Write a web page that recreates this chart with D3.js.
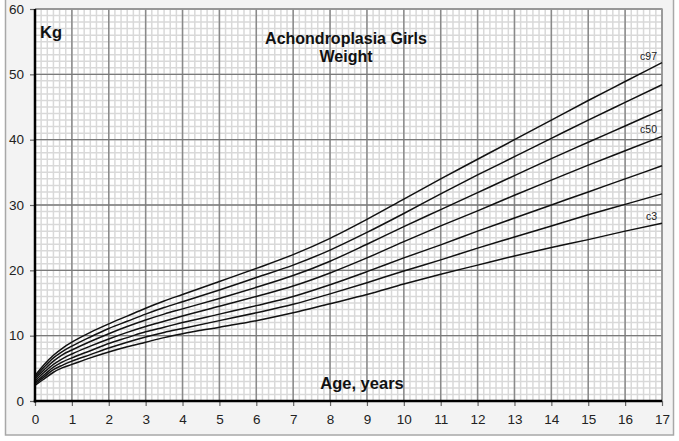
<!DOCTYPE html>
<html>
<head>
<meta charset="utf-8">
<script src="https://cdn.jsdelivr.net/npm/d3@7"></script>
<style>
  body { margin: 0; background: #fff; }
  text { font-family: "Liberation Sans", Arial, sans-serif; }
</style>
</head>
<body>
<svg id="chart" width="679" height="441"></svg>
<script>
// ages in years
const ages = [0, 0.25, 0.5, 0.75, 1, 1.5, 2, 2.5, 3, 3.5, 4, 5, 6, 7, 8, 9, 10, 11, 12, 13, 14, 15, 16, 17];

// weight (kg) per percentile
const c97 = [3.9, 5.6, 7.0, 8.1, 9.0, 10.5, 11.8, 13.0, 14.2, 15.3, 16.3, 18.3, 20.3, 22.4, 24.9, 27.8, 30.9, 34.0, 37.0, 40.0, 43.0, 46.0, 48.9, 51.8];
const c90 = [3.65, 5.2, 6.6, 7.6, 8.4, 9.8, 11.1, 12.2, 13.3, 14.3, 15.2, 17.0, 18.9, 20.8, 23.1, 25.8, 28.7, 31.7, 34.6, 37.4, 40.2, 43.0, 45.7, 48.4];
const c75 = [3.4, 4.8, 6.1, 7.1, 7.8, 9.1, 10.3, 11.4, 12.4, 13.3, 14.1, 15.7, 17.4, 19.2, 21.4, 24.0, 26.7, 29.3, 31.9, 34.5, 37.1, 39.6, 42.1, 44.6];
const c50 = [3.1, 4.4, 5.6, 6.5, 7.2, 8.4, 9.5, 10.5, 11.4, 12.2, 13.0, 14.5, 16.0, 17.6, 19.6, 21.9, 24.4, 26.8, 29.1, 31.5, 33.8, 36.1, 38.3, 40.5];
const c25 = [2.85, 4.0, 5.2, 6.0, 6.6, 7.7, 8.8, 9.7, 10.6, 11.3, 12.0, 13.3, 14.6, 16.0, 17.8, 19.8, 21.9, 23.9, 26.0, 28.0, 30.0, 32.0, 34.0, 36.0];
const c10 = [2.6, 3.7, 4.8, 5.5, 6.1, 7.1, 8.1, 9.0, 9.8, 10.5, 11.1, 12.3, 13.5, 14.8, 16.4, 18.1, 19.9, 21.6, 23.4, 25.1, 26.8, 28.5, 30.1, 31.7];
const c3 = [2.4, 3.4, 4.4, 5.1, 5.6, 6.6, 7.5, 8.3, 9.0, 9.7, 10.3, 11.3, 12.3, 13.5, 14.9, 16.3, 17.9, 19.4, 20.8, 22.2, 23.5, 24.7, 26.0, 27.2];

const series = [
  { name: 'c97', values: c97, label: true },
  { name: 'c90', values: c90, label: false },
  { name: 'c75', values: c75, label: false },
  { name: 'c50', values: c50, label: true },
  { name: 'c25', values: c25, label: false },
  { name: 'c10', values: c10, label: false },
  { name: 'c3', values: c3, label: true },
];

const xTicks = d3.range(0, 18);
const yTicks = [0, 10, 20, 30, 40, 50, 60];

const svg = d3.select('#chart');

const plotLeft = 35, plotRight = 662, plotTop = 9, plotBottom = 401;

const x = d3.scaleLinear().domain([0, 17]).range([plotLeft, plotRight]);
const y = d3.scaleLinear().domain([0, 60]).range([plotBottom, plotTop]);

// outer frame
svg.append('rect')
  .attr('x', 5.5).attr('y', -1)
  .attr('width', 668).attr('height', 436)
  .attr('fill', '#f3f3f3')
  .attr('stroke', '#a8a8a8')
  .attr('stroke-width', 1.5);

// plot background
svg.append('rect')
  .attr('x', plotLeft).attr('y', plotTop)
  .attr('width', plotRight - plotLeft).attr('height', plotBottom - plotTop)
  .attr('fill', '#fff');

const grid = svg.append('g');

// minor grid: every 2 months, every 1 kg
grid.selectAll('.vminor')
  .data(d3.range(0, 17 * 6 + 1).map(i => i / 6))
  .enter().append('line')
  .attr('x1', d => x(d)).attr('x2', d => x(d))
  .attr('y1', plotTop).attr('y2', plotBottom)
  .attr('stroke', '#d9d9d9')
  .attr('stroke-width', 1.5);

grid.selectAll('.hminor')
  .data(d3.range(0, 61))
  .enter().append('line')
  .attr('x1', plotLeft).attr('x2', plotRight)
  .attr('y1', d => y(d)).attr('y2', d => y(d))
  .attr('stroke', '#d9d9d9')
  .attr('stroke-width', 1.5);

// major grid
grid.selectAll('.vmajor')
  .data(xTicks)
  .enter().append('line')
  .attr('x1', d => x(d)).attr('x2', d => x(d))
  .attr('y1', plotTop).attr('y2', plotBottom)
  .attr('stroke', '#8a8a8a')
  .attr('stroke-width', 1.5);

grid.selectAll('.hmajor')
  .data(yTicks)
  .enter().append('line')
  .attr('x1', plotLeft).attr('x2', plotRight)
  .attr('y1', d => y(d)).attr('y2', d => y(d))
  .attr('stroke', '#7a7a7a')
  .attr('stroke-width', 1.3);

// plot border top/right
svg.append('path')
  .attr('d', `M${plotLeft},${plotTop}H${plotRight}V${plotBottom}`)
  .attr('fill', 'none')
  .attr('stroke', '#999')
  .attr('stroke-width', 1.5);

// curves
const line = d3.line()
  .x((d, i) => x(ages[i]))
  .y(d => y(d))
  .curve(d3.curveMonotoneX);

svg.append('g').selectAll('path')
  .data(series)
  .enter().append('path')
  .attr('d', d => line(d.values))
  .attr('fill', 'none')
  .attr('stroke', '#111')
  .attr('stroke-width', 1.5);

// percentile labels
svg.append('g').selectAll('text')
  .data(series.filter(s => s.label))
  .enter().append('text')
  .attr('x', x(17) - 5)
  .attr('y', d => y(d.values[d.values.length - 1]) - 3)
  .attr('text-anchor', 'end')
  .attr('font-size', 10.5)
  .attr('fill', '#222')
  .text(d => d.name);

// axes
const xAxis = d3.axisBottom(x).tickValues(xTicks).tickSize(5).tickPadding(8);
const yAxis = d3.axisLeft(y).tickValues(yTicks).tickSize(5).tickPadding(6);

const gx = svg.append('g').attr('transform', `translate(0,${plotBottom})`).call(xAxis);
const gy = svg.append('g').attr('transform', `translate(${plotLeft},0)`).call(yAxis);

[gx, gy].forEach(g => {
  g.select('.domain').remove();
  g.selectAll('.tick line').attr('stroke', '#666').attr('stroke-width', 1.2);
  g.selectAll('.tick text')
    .attr('font-size', 13.5)
    .attr('fill', '#222')
    .style('font-family', '"Liberation Sans", Arial, sans-serif');
});

svg.append('line')
  .attr('x1', plotLeft).attr('x2', plotLeft)
  .attr('y1', plotTop).attr('y2', plotBottom + 1.5)
  .attr('stroke', '#000').attr('stroke-width', 2.5);
svg.append('line')
  .attr('x1', plotLeft - 1.2).attr('x2', plotRight)
  .attr('y1', plotBottom).attr('y2', plotBottom)
  .attr('stroke', '#000').attr('stroke-width', 2.5);

// titles
svg.append('text')
  .attr('x', 346).attr('y', 44)
  .attr('text-anchor', 'middle')
  .attr('font-size', 16).attr('font-weight', 'bold').attr('fill', '#111')
  .text('Achondroplasia Girls');
svg.append('text')
  .attr('x', 346).attr('y', 62)
  .attr('text-anchor', 'middle')
  .attr('font-size', 16).attr('font-weight', 'bold').attr('fill', '#111')
  .text('Weight');
svg.append('text')
  .attr('x', 40).attr('y', 38)
  .attr('font-size', 16.5).attr('font-weight', 'bold').attr('fill', '#111')
  .text('Kg');
svg.append('text')
  .attr('x', 362).attr('y', 389)
  .attr('text-anchor', 'middle')
  .attr('font-size', 16.5).attr('font-weight', 'bold').attr('fill', '#111')
  .text('Age, years');
</script>
</body>
</html>
